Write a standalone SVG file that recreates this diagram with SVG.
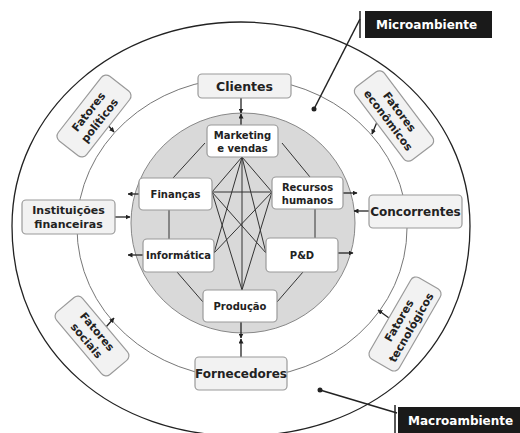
<svg xmlns="http://www.w3.org/2000/svg" width="520" height="433" viewBox="0 0 520 433">
<style>
text{font-family:"DejaVu Sans","Liberation Sans",sans-serif;font-weight:bold;fill:#222;text-anchor:middle}
.outer{fill:#f2f2f2;stroke:#9a9a9a;stroke-width:1.2}
.inner{fill:#ffffff;stroke:#9a9a9a;stroke-width:1.2}
.fat{fill:#f2f2f2;stroke:#9a9a9a;stroke-width:1.2}
.ln{stroke:#333;stroke-width:1;fill:none}
.ar{stroke:#222;stroke-width:1.3;fill:none;marker-end:url(#ah)}
.lab{fill:#1a1a1a}
.labt{fill:#ffffff;font-size:12px;text-anchor:start}
</style>
<defs>
<marker id="ah" viewBox="0 0 10 10" refX="9" refY="5" markerWidth="5" markerHeight="5" orient="auto" markerUnits="userSpaceOnUse">
<path d="M0,0 L10,5 L0,10 z" fill="#222"/>
</marker>
</defs>
<rect width="520" height="433" fill="#ffffff"/>
<g id="ambients">
<path d="M12,226 C12,111 115,22 241,22 C367,22 470,111 470,226 C470,355 367,436 241,436 C115,436 12,355 12,226 Z" fill="none" stroke="#222" stroke-width="1.3"/>
<ellipse cx="242" cy="228" rx="165" ry="150" fill="none" stroke="#777" stroke-width="1"/>
<ellipse cx="243" cy="223" rx="112" ry="110" fill="#d9d9d9" stroke="#888" stroke-width="1"/>
</g>
<g id="connectors">
<line class="ln" x1="205" y1="143" x2="173" y2="178"/>
<line class="ln" x1="282" y1="143" x2="310" y2="177"/>
<line class="ln" x1="169" y1="210" x2="169" y2="239"/>
<line class="ln" x1="315" y1="209" x2="315" y2="238"/>
<line class="ln" x1="177" y1="272" x2="203" y2="302"/>
<line class="ln" x1="303" y1="272" x2="277" y2="302"/>
<g class="ln">
<line x1="242" y1="157" x2="212" y2="192"/>
<line x1="242" y1="157" x2="272" y2="192"/>
<line x1="242" y1="157" x2="214" y2="253"/>
<line x1="242" y1="157" x2="266" y2="253"/>
<line x1="242" y1="157" x2="242" y2="290"/>
<line x1="212" y1="192" x2="272" y2="192"/>
<line x1="212" y1="192" x2="266" y2="253"/>
<line x1="212" y1="192" x2="242" y2="290"/>
<line x1="272" y1="192" x2="214" y2="253"/>
<line x1="272" y1="192" x2="242" y2="290"/>
</g>
<path class="ar" d="M139,194 L128,194"/>
<path class="ar" d="M115,217 L130,217"/>
<path class="ar" d="M143,255 L128,255"/>
<path class="ar" d="M343,193 L357,193"/>
<path class="ar" d="M369,211 L354,211"/>
<path class="ar" d="M338,253 L353,253"/>
<path class="ar" d="M241,98 L241,113"/>
<path class="ar" d="M241,125 L241,114"/>
<path class="ar" d="M241,322 L241,338"/>
<path class="ar" d="M241,357 L241,339"/>
<path class="ar" d="M106,123 L114,132"/>
<path class="ar" d="M377,122 L372,134"/>
<path class="ar" d="M106,327 L114,318"/>
<path class="ar" d="M389,318 L378,310"/>
</g>
<g id="clientes"><rect class="outer" x="198" y="74" width="93" height="24" rx="4"/><text x="244.500" y="91" font-size="12.5">Clientes</text></g>
<g id="concorrentes"><rect class="outer" x="369" y="195" width="93" height="33" rx="4"/><text x="415.500" y="216" font-size="12">Concorrentes</text></g>
<g id="fornecedores"><rect class="outer" x="195" y="357" width="92" height="33" rx="4"/><text x="241" y="378" font-size="12">Fornecedores</text></g>
<g id="instituicoes"><rect class="outer" x="22" y="200" width="93" height="34" rx="4"/><text x="68.500" y="214" font-size="11">Instituições</text><text x="68.500" y="228" font-size="11">financeiras</text></g>
<g id="marketing"><rect class="inner" x="207" y="125" width="71" height="32" rx="4"/><text x="242.500" y="139" font-size="10">Marketing</text><text x="242.500" y="152" font-size="10">e vendas</text></g>
<g id="financas"><rect class="inner" x="139" y="178" width="73" height="32" rx="4"/><text x="175.500" y="198" font-size="10">Finanças</text></g>
<g id="rh"><rect class="inner" x="272" y="177" width="71" height="32" rx="4"/><text x="307.500" y="191" font-size="10">Recursos</text><text x="307.500" y="204" font-size="10">humanos</text></g>
<g id="informatica"><rect class="inner" x="143" y="239" width="71" height="33" rx="4"/><text x="178.500" y="259" font-size="10">Informática</text></g>
<g id="pd"><rect class="inner" x="266" y="238" width="72" height="34" rx="4"/><text x="302" y="259" font-size="10">P&amp;D</text></g>
<g id="producao"><rect class="inner" x="203" y="290" width="74" height="32" rx="4"/><text x="240" y="310" font-size="10">Produção</text></g>
<g id="fatores-politicos" transform="translate(94,116) rotate(-52)"><rect class="fat" x="-41" y="-18" width="82" height="36" rx="6"/><text x="0" y="-3" font-size="11">Fatores</text><text x="0" y="11" font-size="11">políticos</text></g>
<g id="fatores-economicos" transform="translate(394,116) rotate(53)"><rect class="fat" x="-46" y="-18" width="92" height="36" rx="6"/><text x="0" y="-3" font-size="11">Fatores</text><text x="0" y="11" font-size="11">econômicos</text></g>
<g id="fatores-sociais" transform="translate(92,336) rotate(50)"><rect class="fat" x="-41" y="-17" width="82" height="34" rx="6"/><text x="0" y="-3" font-size="11">Fatores</text><text x="0" y="11" font-size="11">sociais</text></g>
<g id="fatores-tecnologicos" transform="translate(405,324) rotate(-60)"><rect class="fat" x="-47" y="-17" width="94" height="34" rx="6"/><text x="0" y="-3" font-size="11">Fatores</text><text x="0" y="11" font-size="11">tecnológicos</text></g>
<g id="microambiente">
<line x1="360" y1="11" x2="360" y2="38" stroke="#222" stroke-width="1.5"/>
<line x1="360" y1="19" x2="314" y2="109" stroke="#222" stroke-width="1.5"/>
<circle cx="314" cy="109" r="2.5" fill="#222"/>
<rect class="lab" x="365" y="11" width="127" height="27"/>
<text class="labt" x="376" y="29">Microambiente</text>
</g>
<g id="macroambiente">
<line x1="395" y1="405" x2="395" y2="433" stroke="#222" stroke-width="1.5"/>
<line x1="397" y1="413" x2="320" y2="390" stroke="#222" stroke-width="1.5"/>
<circle cx="320" cy="390" r="2.5" fill="#222"/>
<rect class="lab" x="398" y="407" width="122" height="26"/>
<text class="labt" x="408" y="425">Macroambiente</text>
</g>
</svg>
